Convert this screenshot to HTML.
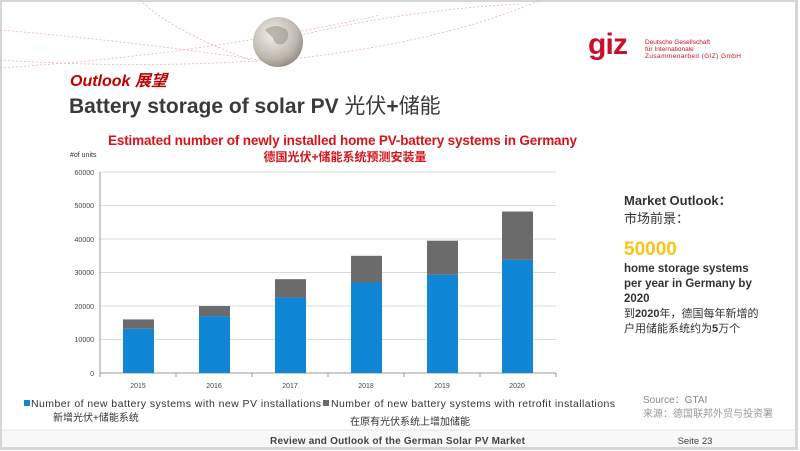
<!DOCTYPE html>
<html><head><meta charset="utf-8"><style>
body{margin:0;background:#fff;}
svg{display:block;}
</style></head><body>
<svg width="800" height="451" viewBox="0 0 800 451" xmlns="http://www.w3.org/2000/svg" font-family="Liberation Sans, Noto Sans CJK SC, sans-serif">
<rect x="0" y="0" width="800" height="451" fill="#fff"/>
<rect x="0.5" y="0.5" width="796" height="448" fill="none" stroke="#d6d6d6" stroke-width="3"/>
<g fill="none" stroke="#e4b5b5" stroke-width="0.8" stroke-dasharray="2,2">
<path d="M0,30 Q120,40 260,60"/><path d="M0,60 Q150,70 300,58 Q450,40 540,0"/>
<path d="M140,0 Q170,30 250,60"/><path d="M280,40 Q400,10 520,4"/>
<path d="M0,68 Q200,55 380,15"/>
</g>
<defs><radialGradient id="g" cx="0.4" cy="0.35" r="0.7"><stop offset="0" stop-color="#f4f2ef"/><stop offset="0.7" stop-color="#bdb6ad"/><stop offset="1" stop-color="#8e877f"/></radialGradient></defs>
<circle cx="278" cy="42" r="25" fill="url(#g)"/>
<path d="M265,30 q10,-8 22,0 q4,8 -4,14 q-8,2 -10,-6 z" fill="#9a9188" opacity="0.6"/>
<text x="588" y="54" font-size="30" font-weight="bold" fill="#c8102e" textLength="40" font-family="Liberation Sans, sans-serif">giz</text>
<text x="645" y="44" font-size="6.5" fill="#c8102e">Deutsche Gesellschaft</text>
<text x="645" y="51" font-size="6.5" fill="#c8102e">für Internationale</text>
<text x="645" y="58" font-size="6.5" fill="#c8102e" textLength="96">Zusammenarbeit (GIZ) GmbH</text>
<text x="70" y="86" font-size="16" font-weight="bold" font-style="italic" fill="#c00000">Outlook 展望</text>
<text x="69" y="113" font-size="21" font-weight="bold" fill="#3a3a3a">Battery storage of solar PV <tspan font-weight="normal">光伏</tspan>+<tspan font-weight="normal">储能</tspan></text>
<text x="108" y="145" font-size="13.5" font-weight="bold" fill="#d4141b" textLength="469">Estimated number of newly installed home PV-battery systems in Germany</text>
<text x="345" y="161" font-size="12" font-weight="bold" fill="#d4141b" text-anchor="middle">德国光伏+储能系统预测安装量</text>
<text x="70" y="157" font-size="7" fill="#333">#of units</text>
<g stroke="#d9d9d9" stroke-width="1">
<line x1="100" y1="172" x2="556" y2="172"/><line x1="100" y1="205.5" x2="556" y2="205.5"/>
<line x1="100" y1="239" x2="556" y2="239"/><line x1="100" y1="272.5" x2="556" y2="272.5"/>
<line x1="100" y1="306" x2="556" y2="306"/><line x1="100" y1="339.5" x2="556" y2="339.5"/>
</g>
<g stroke="#999" stroke-width="1">
<line x1="100" y1="172" x2="100" y2="373"/><line x1="100" y1="373" x2="556" y2="373"/>
<line x1="176" y1="373" x2="176" y2="377"/><line x1="252" y1="373" x2="252" y2="377"/><line x1="328" y1="373" x2="328" y2="377"/><line x1="404" y1="373" x2="404" y2="377"/><line x1="480" y1="373" x2="480" y2="377"/><line x1="556" y1="373" x2="556" y2="377"/><line x1="100" y1="373" x2="100" y2="377"/>
</g>
<g font-size="7" fill="#444" text-anchor="end">
<text x="94" y="175">60000</text><text x="94" y="208">50000</text><text x="94" y="242">40000</text><text x="94" y="275">30000</text><text x="94" y="309">20000</text><text x="94" y="342">10000</text><text x="94" y="376">0</text>
</g>
<g fill="#0f86d6">
<rect x="123" y="328.8" width="31" height="44.2"/><rect x="199" y="316.1" width="31" height="56.9"/><rect x="275" y="297.6" width="31" height="75.4"/><rect x="351" y="282.5" width="31" height="90.5"/><rect x="427" y="274.8" width="31" height="98.2"/><rect x="502" y="259.8" width="31" height="113.2"/>
</g>
<g fill="#6b6b6b">
<rect x="123" y="319.4" width="31" height="9.4"/><rect x="199" y="306" width="31" height="10.1"/><rect x="275" y="279.2" width="31" height="18.4"/><rect x="351" y="255.8" width="31" height="26.7"/><rect x="427" y="240.7" width="31" height="34.1"/><rect x="502" y="211.5" width="31" height="48.3"/>
</g>
<g font-size="7" fill="#444" text-anchor="middle">
<text x="138" y="388">2015</text><text x="214" y="388">2016</text><text x="290" y="388">2017</text><text x="366" y="388">2018</text><text x="442" y="388">2019</text><text x="517" y="388">2020</text>
</g>
<rect x="24" y="400" width="6" height="6" fill="#0f86d6"/>
<text x="31" y="407" font-size="10.5" fill="#333" textLength="290">Number of new battery systems with new PV installations</text>
<text x="53" y="421" font-size="10" fill="#333">新增光伏+储能系统</text>
<rect x="323" y="400" width="6" height="6" fill="#6b6b6b"/>
<text x="331" y="407" font-size="10.5" fill="#333" textLength="284">Number of new battery systems with retrofit installations</text>
<text x="350" y="425" font-size="10" fill="#333">在原有光伏系统上增加储能</text>
<text x="624" y="205" font-size="13" font-weight="bold" fill="#333">Market Outlook：</text>
<text x="624" y="223" font-size="13" fill="#333">市场前景：</text>
<text x="624" y="255" font-size="19" font-weight="bold" fill="#f5c518">50000</text>
<text x="624" y="272" font-size="11.5" font-weight="bold" fill="#333">home storage systems</text>
<text x="624" y="287" font-size="11.5" font-weight="bold" fill="#333">per year in Germany by</text>
<text x="624" y="302" font-size="11.5" font-weight="bold" fill="#333">2020</text>
<text x="624" y="317" font-size="11" fill="#333">到<tspan font-weight="bold">2020</tspan>年，德国每年新增的</text>
<text x="624" y="332" font-size="11" fill="#333">户用储能系统约为<tspan font-weight="bold">5</tspan>万个</text>
<text x="643" y="403" font-size="10" fill="#888">Source：GTAI</text>
<text x="643" y="417" font-size="10" fill="#999">来源：德国联邦外贸与投资署</text>
<rect x="2" y="430" width="793" height="17" fill="#f8f8f8"/>
<line x1="2" y1="430" x2="795" y2="430" stroke="#e6e6e6"/>
<text x="270" y="444" font-size="10" font-weight="bold" fill="#444" textLength="255">Review and Outlook of the German Solar PV Market</text>
<text x="695" y="444" font-size="9.5" fill="#444" text-anchor="middle">Seite 23</text>
</svg>
</body></html>
